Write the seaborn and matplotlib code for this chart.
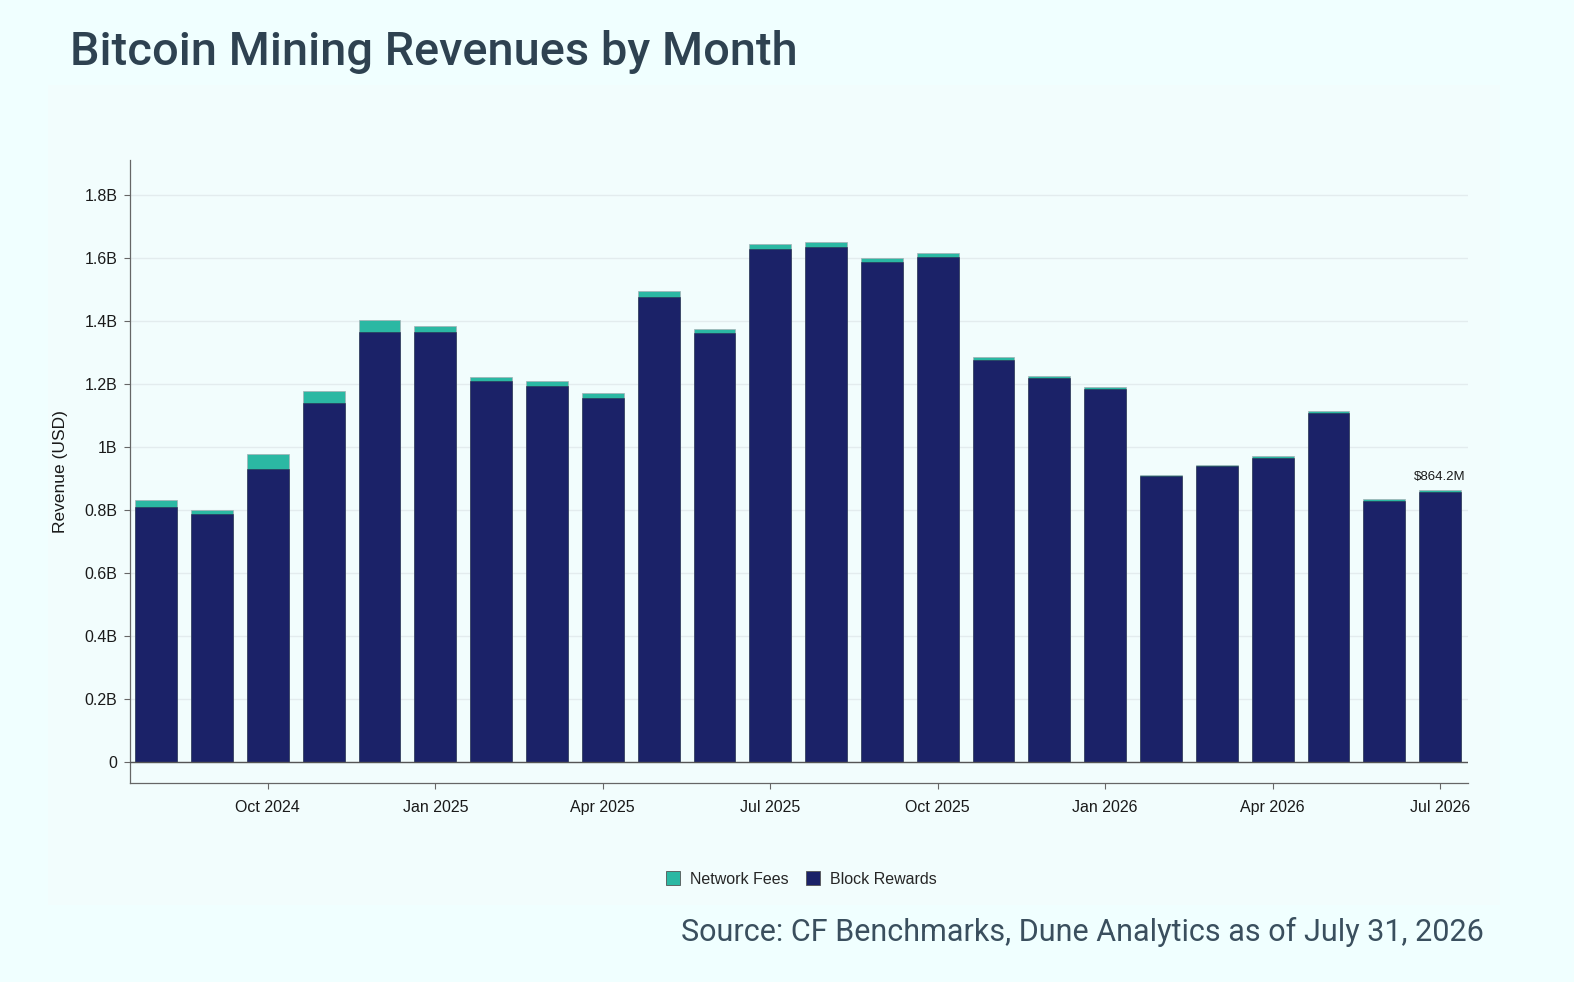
import matplotlib.pyplot as plt
import matplotlib.patches as mpatches
import pandas as pd
import seaborn as sns

# Monthly revenue, billions USD
months = [
    "2024-08", "2024-09", "2024-10", "2024-11", "2024-12",
    "2025-01", "2025-02", "2025-03", "2025-04", "2025-05", "2025-06",
    "2025-07", "2025-08", "2025-09", "2025-10", "2025-11", "2025-12",
    "2026-01", "2026-02", "2026-03", "2026-04", "2026-05", "2026-06", "2026-07",
]
block_rewards = [
    0.810, 0.787, 0.930, 1.140, 1.365,
    1.365, 1.210, 1.194, 1.156, 1.476, 1.362,
    1.629, 1.635, 1.587, 1.603, 1.276, 1.219,
    1.184, 0.908, 0.940, 0.965, 1.108, 0.829, 0.857,
]
network_fees = [
    0.022, 0.013, 0.048, 0.038, 0.038,
    0.019, 0.012, 0.016, 0.015, 0.019, 0.013,
    0.015, 0.016, 0.013, 0.013, 0.010, 0.006,
    0.006, 0.003, 0.004, 0.006, 0.006, 0.006, 0.0072,
]
tick_months = ["2024-10", "2025-01", "2025-04", "2025-07",
               "2025-10", "2026-01", "2026-04", "2026-07"]
tick_labels = ["Oct 2024", "Jan 2025", "Apr 2025", "Jul 2025", "Oct 2025",
               "Jan 2026", "Apr 2026", "Jul 2026"]
y_ticks = [0, 0.2, 0.4, 0.6, 0.8, 1.0, 1.2, 1.4, 1.6, 1.8]
last_label = "$864.2M"

df = pd.DataFrame({"month": months, "block": block_rewards, "fees": network_fees})
df["total"] = df["block"] + df["fees"]

BG = "#F0FFFF"
TEAL = "#2BB8A3"
NAVY = "#1B2268"
TEXT = "#2E4251"

sns.set_theme(style="white")
plt.rcParams["font.family"] = ["Liberation Sans", "DejaVu Sans"]

fig = plt.figure(figsize=(15.74, 9.82), dpi=100, facecolor=BG)

# faint inner panel
fig.patches.append(mpatches.Rectangle((48 / 1574, 1 - 905 / 982), 1452 / 1574, 820 / 982,
                                      transform=fig.transFigure, facecolor="#F2FDFD",
                                      edgecolor="none", zorder=-5))

ax = fig.add_axes([130 / 1574, 1 - 783 / 982, 1338 / 1574, 623 / 982])
ax.set_facecolor("none")

sns.barplot(data=df, x="month", y="total", color=TEAL, saturation=1, width=0.75,
            edgecolor="#a4b0b4", linewidth=0.5, ax=ax, zorder=2)
sns.barplot(data=df, x="month", y="block", color=NAVY, saturation=1, width=0.75,
            edgecolor="#2c3150", linewidth=0.4, ax=ax, zorder=3)

ax.set_xlim(-0.47, 23.5)
ax.set_ylim(-0.0667, 1.911)

ax.set_yticks(y_ticks)
ax.set_yticklabels(["0" if v == 0 else f"{v:g}B" for v in y_ticks], fontsize=11.5)
ax.set_xticks([months.index(m) for m in tick_months])
ax.set_xticklabels(tick_labels, fontsize=11.5)
ax.tick_params(axis="both", bottom=True, left=True, length=4, width=0.8,
               color="#666666", pad=5, labelcolor="#1a1a1a")
ax.tick_params(axis="x", pad=8)

ax.grid(axis="y", color="#E3ECEE", linewidth=1, zorder=0)
ax.set_axisbelow(True)
ax.axhline(0, color="#555555", linewidth=1.0, zorder=4)
for s in ["top", "right"]:
    ax.spines[s].set_visible(False)
for s in ["left", "bottom"]:
    ax.spines[s].set_color("#666666")
    ax.spines[s].set_linewidth(0.9)

ax.set_xlabel("")
ax.set_ylabel("Revenue (USD)", fontsize=12.5, color="#1a1a1a", labelpad=12)

# label on last bar
ax.text(len(months) - 1, df["total"].iloc[-1] + 0.022, last_label,
        ha="center", va="bottom", fontsize=9.5, color="#1a1a1a")

handles = [mpatches.Patch(facecolor=TEAL, edgecolor="#555555", linewidth=0.6, label="Network Fees"),
           mpatches.Patch(facecolor=NAVY, edgecolor="#555555", linewidth=0.6, label="Block Rewards")]
fig.legend(handles=handles, loc="center", bbox_to_anchor=(801 / 1574, 1 - 879 / 982),
           ncol=2, frameon=False, fontsize=11.5, handlelength=0.9, handleheight=0.9,
           handletextpad=0.6, columnspacing=1.1)

fig.text(70 / 1574, 1 - 52 / 982, "Bitcoin Mining Revenues by Month", ha="left", va="center",
         fontsize=33.8, fontweight="medium", color=TEXT, family=["Roboto", "DejaVu Sans"])
fig.text(1484 / 1574, 1 - 932 / 982, "Source: CF Benchmarks, Dune Analytics as of July 31, 2026",
         ha="right", va="center", fontsize=22, fontweight="normal", color="#3A4F5E",
         family=["Roboto", "DejaVu Sans"])

fig.savefig("out.png", dpi=100, facecolor=BG)
